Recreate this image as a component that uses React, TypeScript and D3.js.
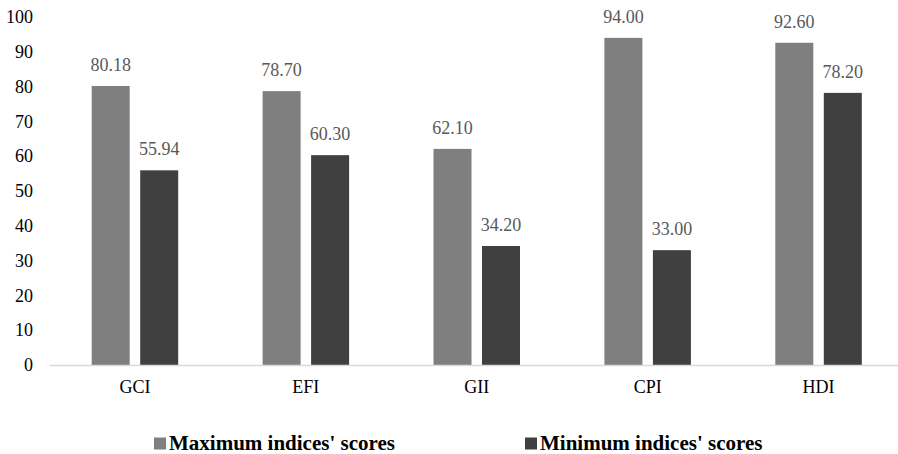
import React from "react";
import * as d3 from "d3";

const categories = ["GCI", "EFI", "GII", "CPI", "HDI"];
const maxScores = [80.18, 78.7, 62.1, 94.0, 92.6];
const minScores = [55.94, 60.3, 34.2, 33.0, 78.2];
const yTicks = [0, 10, 20, 30, 40, 50, 60, 70, 80, 90, 100];
const seriesNames = ["Maximum indices' scores", "Minimum indices' scores"];
const seriesColors = ["#7f7f7f", "#404040"];

const W = 898;
const H = 454;
const FONT = "'Liberation Serif', 'Times New Roman', serif";

export default function App() {
  const x = d3.scaleBand<string>().domain(categories).range([49.5, 904]).paddingInner(0).paddingOuter(0);
  const y = d3.scaleLinear().domain([0, 100]).range([365, 17]);
  const groupW = 86.5;
  const inner = d3
    .scaleBand<number>()
    .domain([0, 1])
    .range([(x.bandwidth() - groupW) / 2, (x.bandwidth() + groupW) / 2])
    .paddingInner(0.2165)
    .paddingOuter(0);
  const series = [maxScores, minScores];

  return (
    <svg width={W} height={H} style={{ position: "absolute", left: 0, top: 0, background: "#fff" }}>
      {yTicks.map((t) => (
        <text key={t} x={33} y={y(t)} dy="0.34em" textAnchor="end" fontFamily={FONT} fontSize={18} fill="#000">
          {t}
        </text>
      ))}
      {series.map((vals, si) =>
        categories.map((c, ci) => {
          const bx = (x(c) as number) + (inner(si) as number);
          const v = vals[ci];
          return (
            <g key={`${si}-${c}`}>
              <rect x={bx} y={y(v)} width={inner.bandwidth()} height={y(0) - y(v)} fill={seriesColors[si]} />
              <text
                x={bx + inner.bandwidth() / 2}
                y={y(v) - 15}
                textAnchor="middle"
                fontFamily={FONT}
                fontSize={18}
                fill="#595959"
              >
                {v.toFixed(2)}
              </text>
            </g>
          );
        })
      )}
      <line x1={49.5} x2={W} y1={y(0) + 0.5} y2={y(0) + 0.5} stroke="#d9d9d9" strokeWidth={1.5} />
      {categories.map((c) => (
        <text
          key={c}
          x={(x(c) as number) + x.bandwidth() / 2}
          y={393}
          textAnchor="middle"
          fontFamily={FONT}
          fontSize={18}
          fill="#000"
        >
          {c}
        </text>
      ))}
      {seriesNames.map((n, i) => {
        const lx = i === 0 ? 154 : 525;
        return (
          <g key={n}>
            <rect x={lx} y={437.5} width={12} height={12} fill={seriesColors[i]} />
            <text x={lx + 15} y={450} fontFamily={FONT} fontSize={21} fontWeight="bold" fill="#000">
              {n}
            </text>
          </g>
        );
      })}
    </svg>
  );
}
